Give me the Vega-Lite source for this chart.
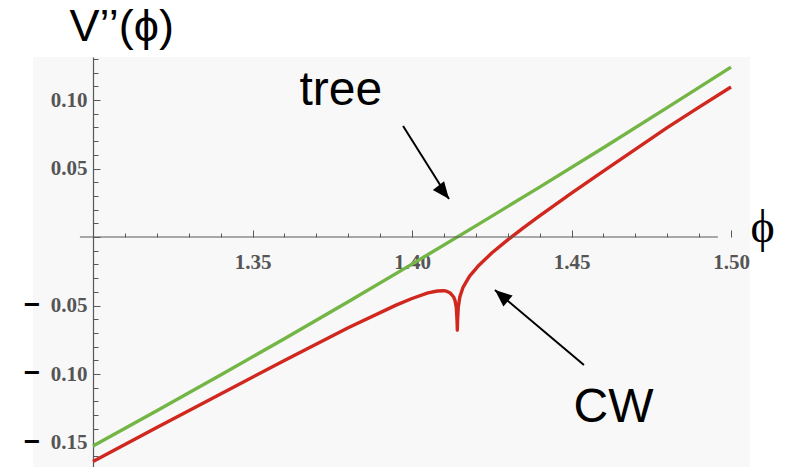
{
  "$schema": "https://vega.github.io/schema/vega-lite/v6.json",
  "width": 717,
  "height": 410,
  "autosize": {"type": "none"},
  "padding": {"left": 33, "top": 57, "right": 35, "bottom": 0},
  "background": "white",
  "view": {"fill": "#f8f8f8", "stroke": null},
  "config": {"axis": {"grid": false}},
  "datasets": {
    "curves": [
      {"model": "tree", "phi": 1.30, "v": -0.1526},
      {"model": "tree", "phi": 1.32, "v": -0.1269},
      {"model": "tree", "phi": 1.34, "v": -0.1008},
      {"model": "tree", "phi": 1.36, "v": -0.0742},
      {"model": "tree", "phi": 1.38, "v": -0.0472},
      {"model": "tree", "phi": 1.40, "v": -0.0198},
      {"model": "tree", "phi": 1.42, "v": 0.0081},
      {"model": "tree", "phi": 1.44, "v": 0.0364},
      {"model": "tree", "phi": 1.46, "v": 0.0652},
      {"model": "tree", "phi": 1.48, "v": 0.0944},
      {"model": "tree", "phi": 1.50, "v": 0.1240},
      {"model": "CW", "phi": 1.300, "v": -0.1638},
      {"model": "CW", "phi": 1.320, "v": -0.1390},
      {"model": "CW", "phi": 1.340, "v": -0.1146},
      {"model": "CW", "phi": 1.360, "v": -0.0901},
      {"model": "CW", "phi": 1.380, "v": -0.0663},
      {"model": "CW", "phi": 1.395, "v": -0.0497},
      {"model": "CW", "phi": 1.400, "v": -0.0449},
      {"model": "CW", "phi": 1.405, "v": -0.0408},
      {"model": "CW", "phi": 1.408, "v": -0.0394},
      {"model": "CW", "phi": 1.410, "v": -0.0392},
      {"model": "CW", "phi": 1.411, "v": -0.0397},
      {"model": "CW", "phi": 1.412, "v": -0.0409},
      {"model": "CW", "phi": 1.413, "v": -0.0436},
      {"model": "CW", "phi": 1.4135, "v": -0.0465},
      {"model": "CW", "phi": 1.4139, "v": -0.0516},
      {"model": "CW", "phi": 1.41415, "v": -0.0625},
      {"model": "CW", "phi": 1.41421, "v": -0.0680},
      {"model": "CW", "phi": 1.41428, "v": -0.0614},
      {"model": "CW", "phi": 1.4145, "v": -0.0512},
      {"model": "CW", "phi": 1.415, "v": -0.0437},
      {"model": "CW", "phi": 1.416, "v": -0.0367},
      {"model": "CW", "phi": 1.418, "v": -0.0288},
      {"model": "CW", "phi": 1.421, "v": -0.0206},
      {"model": "CW", "phi": 1.425, "v": -0.0117},
      {"model": "CW", "phi": 1.430, "v": -0.0021},
      {"model": "CW", "phi": 1.435, "v": 0.0069},
      {"model": "CW", "phi": 1.440, "v": 0.0154},
      {"model": "CW", "phi": 1.450, "v": 0.0320},
      {"model": "CW", "phi": 1.460, "v": 0.0481},
      {"model": "CW", "phi": 1.470, "v": 0.0640},
      {"model": "CW", "phi": 1.480, "v": 0.0798},
      {"model": "CW", "phi": 1.490, "v": 0.0948},
      {"model": "CW", "phi": 1.500, "v": 0.1095}
    ],
    "negTicks": [
      {"v": -0.05},
      {"v": -0.10},
      {"v": -0.15}
    ],
    "notes": [
      {"text": "tree", "phi": 1.3777, "v": 0.0964},
      {"text": "CW", "phi": 1.4632, "v": -0.1350}
    ],
    "arrows": [
      {"name": "tree", "phiTail": 1.3972, "vTail": 0.0810, "phiTip": 1.4116, "vTip": 0.0277},
      {"name": "CW", "phiTail": 1.4539, "vTail": -0.0934, "phiTip": 1.4260, "vTip": -0.0387}
    ]
  },
  "layer": [
    {
      "data": {"name": "curves"},
      "mark": {"type": "line", "strokeWidth": 3.4, "strokeJoin": "round"},
      "encoding": {
        "x": {
          "field": "phi",
          "type": "quantitative",
          "scale": {"domain": [1.281191, 1.505956], "nice": false, "zero": false},
          "title": "ϕ",
          "axis": {
            "orient": "bottom",
            "offset": -230,
            "domain": false,
            "tickCount": 100,
            "values": [1.30, 1.31, 1.32, 1.33, 1.34, 1.35, 1.36, 1.37, 1.38, 1.39, 1.40, 1.41, 1.42, 1.43, 1.44, 1.45, 1.46, 1.47, 1.48, 1.49, 1.50],
            "tickColor": "#585858",
            "tickWidth": 1,
            "tickSize": {"condition": {"test": "round(datum.value * 100) % 5 == 0", "value": -7}, "value": -4},
            "labelExpr": "round(datum.value * 100) % 5 == 0 && round(datum.value * 100) != 130 ? format(datum.value, '.2f') : ''",
            "labelFont": "Liberation Serif",
            "labelFontWeight": "bold",
            "labelFontSize": 21,
            "labelColor": "#555555",
            "labelPadding": 21,
            "labelBaseline": "top",
            "labelFlush": false,
            "labelOverlap": false,
            "titleFont": "Liberation Serif",
            "titleFontWeight": "normal",
            "titleFontSize": 46,
            "titleColor": "black",
            "titleAlign": "center",
            "titleBaseline": "middle",
            "titleX": 729,
            "titleY": -10
          }
        },
        "y": {
          "field": "v",
          "type": "quantitative",
          "scale": {"domain": [-0.16788, 0.13139], "nice": false, "zero": false},
          "title": "V’’(ϕ)",
          "axis": {
            "orient": "left",
            "offset": -60,
            "domainColor": "#585858",
            "domainWidth": 1.2,
            "tickCount": 100,
            "values": [-0.16, -0.15, -0.14, -0.13, -0.12, -0.11, -0.10, -0.09, -0.08, -0.07, -0.06, -0.05, -0.04, -0.03, -0.02, -0.01, 0, 0.01, 0.02, 0.03, 0.04, 0.05, 0.06, 0.07, 0.08, 0.09, 0.10, 0.11, 0.12, 0.13],
            "tickColor": "#585858",
            "tickWidth": 1,
            "tickSize": {"condition": {"test": "round(datum.value * 100) % 5 == 0", "value": -7}, "value": -5},
            "labelExpr": "round(datum.value * 100) % 5 == 0 && round(datum.value * 100) != 0 ? format(abs(datum.value), '.2f') : ''",
            "labelFont": "Liberation Serif",
            "labelFontWeight": "bold",
            "labelFontSize": 21,
            "labelColor": "#555555",
            "labelPadding": 13,
            "labelBaseline": "middle",
            "labelFlush": false,
            "labelOverlap": false,
            "titleFont": "Liberation Sans",
            "titleFontWeight": "normal",
            "titleFontSize": 45,
            "titleColor": "black",
            "titleAngle": 0,
            "titleAlign": "left",
            "titleBaseline": "alphabetic",
            "titleX": -24,
            "titleY": -17
          }
        },
        "color": {
          "field": "model",
          "type": "nominal",
          "scale": {"domain": ["tree", "CW"], "range": ["#74b645", "#d0281f"]},
          "legend": null
        }
      }
    },
    {
      "data": {"values": [{"axis": "phi"}]},
      "mark": {"type": "rule", "color": "#585858", "strokeWidth": 1.2},
      "encoding": {
        "x": {"datum": 1.2959, "type": "quantitative"},
        "x2": {"datum": 1.4959},
        "y": {"datum": 0, "type": "quantitative"}
      }
    },
    {
      "data": {"name": "negTicks"},
      "mark": {"type": "text", "text": "−", "font": "Liberation Sans", "fontWeight": "bold", "fontSize": 28, "color": "black", "align": "center", "baseline": "middle", "dx": -61},
      "encoding": {
        "x": {"datum": 1.30, "type": "quantitative"},
        "y": {"field": "v", "type": "quantitative"}
      }
    },
    {
      "data": {"name": "notes"},
      "mark": {"type": "text", "font": "Liberation Sans", "fontSize": 48, "color": "black", "align": "center", "baseline": "alphabetic"},
      "encoding": {
        "x": {"field": "phi", "type": "quantitative"},
        "y": {"field": "v", "type": "quantitative"},
        "text": {"field": "text"}
      }
    },
    {
      "data": {"name": "arrows"},
      "mark": {"type": "rule", "color": "black", "strokeWidth": 2},
      "encoding": {
        "x": {"field": "phiTail", "type": "quantitative"},
        "y": {"field": "vTail", "type": "quantitative"},
        "x2": {"field": "phiTip"},
        "y2": {"field": "vTip"}
      }
    },
    {
      "data": {"name": "arrows"},
      "transform": [{"filter": "datum.name == 'tree'"}],
      "mark": {"type": "point", "shape": "M0,0L-0.75,1.8L0.75,1.8Z", "size": 361, "filled": true, "color": "black", "opacity": 1, "angle": 142},
      "encoding": {
        "x": {"field": "phiTip", "type": "quantitative"},
        "y": {"field": "vTip", "type": "quantitative"}
      }
    },
    {
      "data": {"name": "arrows"},
      "transform": [{"filter": "datum.name == 'CW'"}],
      "mark": {"type": "point", "shape": "M0,0L-0.75,1.8L0.75,1.8Z", "size": 361, "filled": true, "color": "black", "opacity": 1, "angle": 310.1},
      "encoding": {
        "x": {"field": "phiTip", "type": "quantitative"},
        "y": {"field": "vTip", "type": "quantitative"}
      }
    }
  ]
}
